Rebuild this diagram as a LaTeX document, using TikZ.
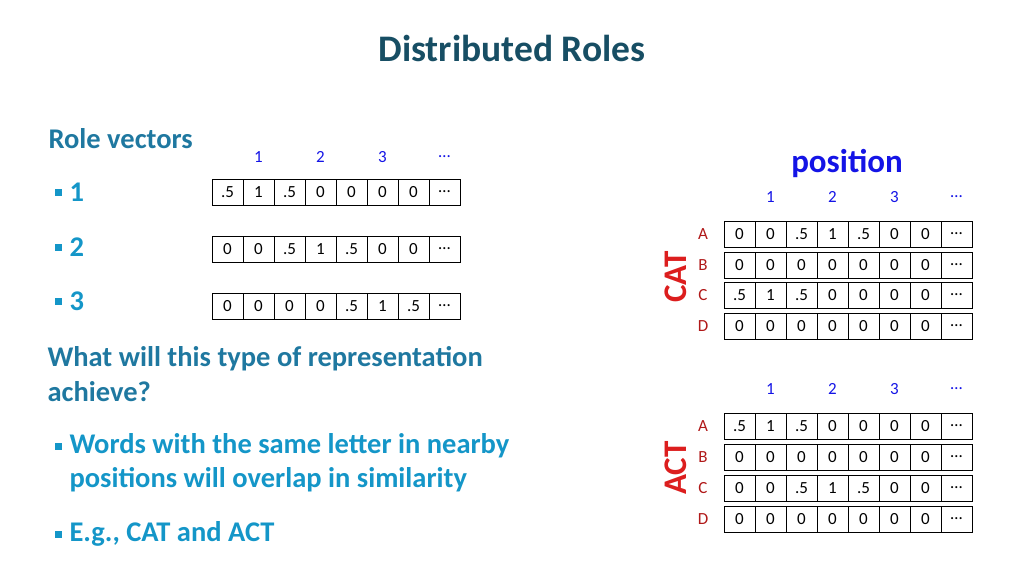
\documentclass[tikz,border=0pt]{standalone}
\usepackage{fontspec}
\setmainfont{Carlito}
\definecolor{ttl}{RGB}{23,78,100}
\definecolor{hd}{RGB}{31,120,160}
\definecolor{bl}{RGB}{20,150,200}
\definecolor{pos}{RGB}{20,20,230}
\definecolor{rd}{RGB}{220,30,30}
\tikzset{cell/.style={draw,line width=0.9pt,minimum width=31pt,minimum height=26pt,inner sep=0,font=\fontsize{17}{17}\selectfont},
lbl/.style={font=\fontsize{17}{17}\selectfont,text=pos},
side/.style={font=\fontsize{17}{17}\selectfont,text=rd!80!black},
bul/.style={anchor=west,text=bl,font=\bfseries\fontsize{28.5}{34}\selectfont,align=left},
sq/.style={fill=bl,minimum size=7pt,inner sep=0}}
\newcommand{\vrow}[4]{%
\foreach \v [count=\i] in {#4} {\node[cell] (#1-\i) at ({#2+15.5+31*(\i-1)},#3) {\v};}}
\begin{document}
\begin{tikzpicture}[x=1pt,y=-1pt]
\useasboundingbox (0,0) rectangle (1024,576);
\node[text=ttl,font=\bfseries\fontsize{37.5}{40}\selectfont] (title) at (512,48) {Distributed Roles};
\node[anchor=west,text=hd,font=\bfseries\fontsize{28.5}{30}\selectfont] (rv) at (45,139) {Role vectors};
\foreach \t/\y [count=\k] in {1/192,2/247,3/301}{
 \node[sq] (s\k) at (58,\y) {};
 \node[bul] (b\k) at (66,\y) {\t};}
\foreach \t [count=\i] in {1,2,3,…}{\node[lbl] (tl\i) at ({258.5+62*(\i-1)},157) {\t};}
\vrow{r1}{212}{192}{.5,1,.5,0,0,0,0,…}
\vrow{r2}{212}{249}{0,0,.5,1,.5,0,0,…}
\vrow{r3}{212}{306}{0,0,0,0,.5,1,.5,…}
\node[anchor=west,text=hd,font=\bfseries\fontsize{28.5}{35}\selectfont,align=left] (q) at (44,374) {What will this type of representation\\achieve?};
\node[sq] (s4) at (58,446) {};
\node[bul] (b4) at (66,463) {Words with the same letter in nearby\\positions will overlap in similarity};
\node[sq] (s5) at (58,534) {};
\node[bul] (b5) at (66,534) {E.g., CAT and ACT};
\node[text=pos,font=\bfseries\fontsize{33}{34}\selectfont] (pos) at (847,163) {position};
\foreach \t [count=\i] in {1,2,3,…}{\node[lbl] (pa\i) at ({770.5+62*(\i-1)},197) {\t};
 \node[lbl] (pb\i) at ({770.5+62*(\i-1)},389) {\t};}
\vrow{ca}{724}{234}{0,0,.5,1,.5,0,0,…}
\vrow{cb}{724}{265}{0,0,0,0,0,0,0,…}
\vrow{cc}{724}{295}{.5,1,.5,0,0,0,0,…}
\vrow{cd}{724}{326}{0,0,0,0,0,0,0,…}
\vrow{aa}{724}{426}{.5,1,.5,0,0,0,0,…}
\vrow{ab}{724}{457}{0,0,0,0,0,0,0,…}
\vrow{ac}{724}{488}{0,0,.5,1,.5,0,0,…}
\vrow{ad}{724}{519}{0,0,0,0,0,0,0,…}
\foreach \t/\y [count=\i] in {A/234,B/265,C/295,D/326}{\node[side] (lc\i) at (703,\y) {\t};}
\foreach \t/\y [count=\i] in {A/426,B/457,C/488,D/519}{\node[side] (la\i) at (703,\y) {\t};}
\node[rotate=90,text=rd,font=\bfseries\fontsize{33}{33}\selectfont] (cat) at (676,277) {CAT};
\node[rotate=90,text=rd,font=\bfseries\fontsize{33}{33}\selectfont] (act) at (676,468) {ACT};
\end{tikzpicture}
\end{document}
